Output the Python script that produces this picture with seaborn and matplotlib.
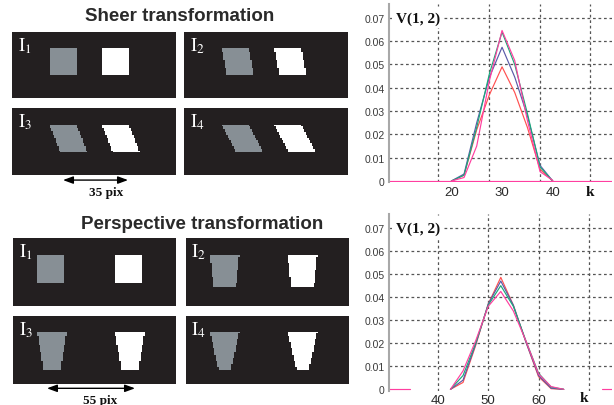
import numpy as np
import pandas as pd
import matplotlib
matplotlib.use("Agg")
import matplotlib.pyplot as plt
from matplotlib.colors import ListedColormap
from matplotlib.patches import FancyArrowPatch
import seaborn as sns

# ---------------- curve data: V(1, 2) against k ----------------
series_names = ["red", "blue", "green", "magenta"]

k_sheer = [20, 22.5, 25, 27.5, 30, 32.5, 35, 37.5, 40]
v_sheer_red = [0, 0.0025, 0.022, 0.037, 0.049, 0.038, 0.023, 0.005, 0]
v_sheer_blue = [0, 0.003, 0.025, 0.0445, 0.0574, 0.0446, 0.028, 0.0067, 0]
v_sheer_green = [0, 0.0025, 0.023, 0.046, 0.0639, 0.050, 0.029, 0.006, 0]
v_sheer_magenta = [0, 0.0015, 0.015, 0.043, 0.0646, 0.0517, 0.026, 0.004, 0.0003]
k_sheer_base = [5, 55]          # zero level of the magenta curve
v_sheer_base = [0, 0]

k_persp = [42.5, 45, 47.5, 50, 52.5, 55, 57.5, 60, 62.5, 65]
v_persp_red = [0, 0.003, 0.019, 0.037, 0.0486, 0.0365, 0.0205, 0.0055, 0.0003, 0]
v_persp_blue = [0, 0.004, 0.0195, 0.037, 0.047, 0.0365, 0.0205, 0.006, 0.0005, 0]
v_persp_green = [0, 0.006, 0.020, 0.0365, 0.045, 0.036, 0.021, 0.007, 0.001, 0]
v_persp_magenta = [0, 0.008, 0.021, 0.036, 0.0425, 0.034, 0.021, 0.0067, 0.0012, 0]
k_persp_base_lo = [28, 34.5]
k_persp_base_hi = [72.6, 78]
v_persp_base = [0, 0]

y_ticks = [0, 0.01, 0.02, 0.03, 0.04, 0.05, 0.06, 0.07]
y_tick_labels = ["0", "0.01", "0.02", "0.03", "0.04", "0.05", "0.06", "0.07"]
y_grid = [0.01, 0.02, 0.03, 0.04, 0.05, 0.06, 0.07]

sheer_xticks = [20, 30, 40]
sheer_xgrid = [17.4, 27.4, 37.4, 47.4]
persp_xticks = [40, 50, 60]
persp_xgrid = [40, 50, 60, 70]

# ---------------- image panel parameters ----------------
sheer_factors = [0.0, 0.2, 0.4, 0.55]
sheer_shift = 35            # pixels between grey and white shape
persp_shapes = [            # (top width, bottom width, height, top row)
    (19, 19, 19, 12),
    (20.5, 16, 22.5, 12),
    (21, 12, 26, 11),
    (20.5, 9, 26, 11),
]
persp_shift = 55
panel_labels = ["1", "2", "3", "4"]

BG = "#231f20"
GREY = "#878f95"
palette = {"red": "#ff5050", "blue": "#5a5aa8", "green": "#1aa87a", "magenta": "#ff3fa0"}


def sheer_image(s, w=109, h=44, top=11, left=25, size=18, shift=35):
    img = np.zeros((h, w))
    for r in range(size):
        off = int(np.floor(s * r + 0.5))
        c0 = left + off
        img[top + r, c0:c0 + size] = 1
        img[top + r, c0 + shift:c0 + shift + size] = 2
    return img


def persp_image(tw, bw, hh, top, w=115, h=47, left=17, shift=55):
    img = np.zeros((h, w))
    n = int(round(hh))
    c = left + tw / 2.0
    cols = np.arange(w) + 0.5
    for i in range(n):
        t = i / max(n - 1, 1)
        ww = tw + (bw - tw) * t
        img[top + i, np.abs(cols - c) <= ww / 2.0] = 1
        img[top + i, np.abs(cols - (c + shift)) <= ww / 2.0] = 2
    return img


def long_frame(k_main, values, base_segments):
    rows = []
    for name, vals in zip(series_names, values):
        for kk, vv in zip(k_main, vals):
            rows.append((kk, vv, name, name + "_main"))
    for j, (kb, vb) in enumerate(base_segments):
        for kk, vv in zip(kb, vb):
            rows.append((kk, vv, "magenta", "base%d" % j))
    return pd.DataFrame(rows, columns=["k", "V", "series", "seg"])


sns.set_style("white")
plt.rcParams["font.family"] = ["Liberation Sans", "DejaVu Sans"]
plt.rcParams["mathtext.fontset"] = "stix"

fig = plt.figure(figsize=(6.14, 4.06), dpi=100)
cmap = ListedColormap([BG, GREY, "#ffffff"])


def draw_panel(rect, img, label):
    ax = fig.add_axes(rect)
    ax.imshow(img, cmap=cmap, vmin=0, vmax=2, interpolation="nearest", aspect="auto")
    ax.set_xticks([]); ax.set_yticks([])
    for sp in ax.spines.values():
        sp.set_visible(False)
    ax.text(0.035, 0.95, r"$\mathrm{I}_{%s}$" % label, transform=ax.transAxes,
            color="white", fontsize=13.5, ha="left", va="top")
    return ax


sheer_rects = [[0.0200, 0.7554, 0.2666, 0.1626], [0.3002, 0.7554, 0.2671, 0.1626],
               [0.0200, 0.5665, 0.2666, 0.1650], [0.3002, 0.5665, 0.2671, 0.1650]]
persp_rects = [[0.0217, 0.2446, 0.2645, 0.1660], [0.3024, 0.2446, 0.2648, 0.1660],
               [0.0217, 0.0517, 0.2645, 0.1667], [0.3024, 0.0517, 0.2648, 0.1667]]

for rect, s, lab in zip(sheer_rects, sheer_factors, panel_labels):
    draw_panel(rect, sheer_image(s, shift=sheer_shift), lab)
for rect, (tw, bw, hh, top), lab in zip(persp_rects, persp_shapes, panel_labels):
    draw_panel(rect, persp_image(tw, bw, hh, top, shift=persp_shift), lab)

title_kw = dict(fontsize=13.5, fontweight="bold", color="#2a2a2a", ha="center", va="center")
fig.text(0.293, 0.959, "Sheer transformation", **title_kw)
fig.text(0.329, 0.446, "Perspective transformation", **title_kw)

arrow_kw = dict(arrowstyle="<|-|>,head_length=0.6,head_width=0.22", color="black", lw=1.0,
                shrinkA=0, shrinkB=0, mutation_scale=10)
fig.add_artist(FancyArrowPatch((0.1026, 0.554), (0.2085, 0.554),
                               transform=fig.transFigure, **arrow_kw))
fig.add_artist(FancyArrowPatch((0.0765, 0.0411), (0.2199, 0.0411),
                               transform=fig.transFigure, **arrow_kw))
serif_bold = dict(family=["Liberation Serif", "DejaVu Serif"], fontweight="bold", color="#111111")
fig.text(0.1726, 0.5246, "%d pix" % sheer_shift, fontsize=9.5, ha="center", va="center", **serif_bold)
fig.text(0.163, 0.0135, "%d pix" % persp_shift, fontsize=9.5, ha="center", va="center", **serif_bold)


def draw_chart(rect, df, xlim, xticks, xgrid, k_pos, v_pos):
    ax = fig.add_axes(rect)
    ax.set_axisbelow(True)
    sns.lineplot(data=df, x="k", y="V", hue="series", units="seg", estimator=None, sort=False,
                 palette=palette, hue_order=series_names, linewidth=0.85, legend=False, ax=ax)
    ax.set_xlim(*xlim)
    ax.set_ylim(-0.0005, 0.0761)
    ax.xaxis.remove_overlapping_locs = False
    ax.yaxis.remove_overlapping_locs = False
    ax.set_xticks(xticks)
    ax.set_xticklabels([str(t) for t in xticks])
    ax.set_xticks(xgrid, minor=True)
    ax.set_yticks(y_ticks)
    ax.set_yticklabels(y_tick_labels)
    ax.set_yticks(y_grid, minor=True)
    grid_kw = dict(color="#555555", linestyle=(0, (2.2, 2.2)), linewidth=0.9)
    ax.xaxis.grid(False, which="major")
    ax.yaxis.grid(False, which="major")
    ax.xaxis.grid(True, which="minor", **grid_kw)
    ax.yaxis.grid(True, which="minor", **grid_kw)
    ax.tick_params(axis="both", which="both", length=0)
    ax.tick_params(axis="y", labelsize=7.5, labelcolor="#3a3a3a", pad=3)
    ax.tick_params(axis="x", labelsize=9.5, labelcolor="#2a2a2a", pad=2.5)
    for name, sp in ax.spines.items():
        sp.set_visible(name == "left")
    ax.spines["left"].set_color("#a8a8a8")
    ax.spines["left"].set_linewidth(1.5)
    ax.set_xlabel("")
    ax.set_ylabel("")
    ax.text(0.031, v_pos, "V(1, 2)", transform=ax.transAxes, fontsize=11, ha="left", va="center",
            bbox=dict(facecolor="white", edgecolor="none", pad=2.5), zorder=5, **serif_bold)
    ax.text(k_pos[0], k_pos[1], "k", transform=ax.transAxes, fontsize=11, ha="center",
            va="center", **serif_bold)
    return ax


df_sheer = long_frame(k_sheer, [v_sheer_red, v_sheer_blue, v_sheer_green, v_sheer_magenta],
                      [(k_sheer_base, v_sheer_base)])
df_persp = long_frame(k_persp, [v_persp_red, v_persp_blue, v_persp_green, v_persp_magenta],
                      [(k_persp_base_lo, v_persp_base), (k_persp_base_hi, v_persp_base)])

draw_chart([0.6336, 0.5488, 0.3632, 0.4397], df_sheer, (7.7, 51.7), sheer_xticks, sheer_xgrid,
           (0.901, -0.052), 0.92)
draw_chart([0.6336, 0.0357, 0.3632, 0.4347], df_persp, (30.3, 74.6), persp_xticks, persp_xgrid,
           (0.874, -0.042), 0.918)

fig.savefig("out.png", dpi=100, facecolor="white")
